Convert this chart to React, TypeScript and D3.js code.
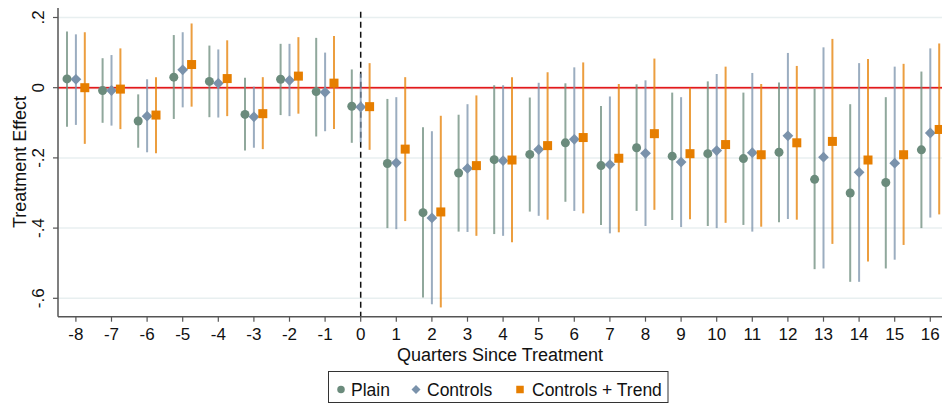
import React from "react";
import * as d3 from "d3";

const quarters = [-8, -7, -6, -5, -4, -3, -2, -1, 0, 1, 2, 3, 4, 5, 6, 7, 8, 9, 10, 11, 12, 13, 14, 15, 16];

const plainEst = [0.025, -0.008, -0.095, 0.030, 0.018, -0.076, 0.024, -0.011, -0.053, -0.216, -0.356, -0.243, -0.205, -0.19, -0.157, -0.222, -0.171, -0.195, -0.188, -0.202, -0.184, -0.261, -0.30, -0.27, -0.177];
const plainHi = [0.16, 0.084, -0.019, 0.15, 0.12, 0.028, 0.125, 0.142, 0.052, -0.032, -0.113, -0.077, 0.007, -0.028, 0.0125, -0.052, 0.0097, -0.014, 0.018, -0.014, 0.015, -0.003, -0.047, -0.027, 0.046];
const plainLo = [-0.111, -0.10, -0.171, -0.089, -0.084, -0.179, -0.078, -0.139, -0.157, -0.40, -0.598, -0.41, -0.417, -0.353, -0.325, -0.391, -0.351, -0.377, -0.394, -0.391, -0.383, -0.517, -0.553, -0.515, -0.40];

const controlsEst = [0.024, -0.008, -0.081, 0.051, 0.0125, -0.083, 0.021, -0.013, -0.055, -0.214, -0.371, -0.23, -0.208, -0.176, -0.147, -0.219, -0.187, -0.212, -0.179, -0.185, -0.137, -0.198, -0.241, -0.215, -0.129];
const controlsHi = [0.152, 0.093, 0.024, 0.158, 0.109, 0.003, 0.125, 0.10, 0.04, -0.027, -0.124, -0.047, 0.007, 0.014, 0.058, -0.025, 0.021, -0.027, 0.039, 0.042, 0.099, 0.115, 0.070, 0.06, 0.112];
const controlsLo = [-0.106, -0.108, -0.184, -0.056, -0.085, -0.171, -0.081, -0.124, -0.155, -0.403, -0.617, -0.411, -0.422, -0.365, -0.351, -0.415, -0.394, -0.397, -0.40, -0.41, -0.374, -0.515, -0.553, -0.49, -0.37];

const trendEst = [0.0, -0.004, -0.078, 0.066, 0.026, -0.074, 0.033, 0.013, -0.054, -0.175, -0.354, -0.222, -0.206, -0.165, -0.142, -0.201, -0.131, -0.188, -0.162, -0.191, -0.157, -0.153, -0.206, -0.191, -0.119];
const trendHi = [0.158, 0.112, 0.030, 0.183, 0.135, 0.030, 0.144, 0.147, 0.07, 0.030, -0.080, -0.022, 0.030, 0.044, 0.072, 0.0105, 0.083, 0.0, 0.06, 0.0105, 0.062, 0.139, 0.082, 0.068, 0.126];
const trendLo = [-0.160, -0.118, -0.187, -0.054, -0.081, -0.175, -0.074, -0.118, -0.177, -0.38, -0.626, -0.422, -0.44, -0.376, -0.358, -0.412, -0.348, -0.375, -0.385, -0.396, -0.376, -0.445, -0.495, -0.448, -0.361];

const yTicks = [0.2, 0, -0.2, -0.4, -0.6];
const yTickLabels = [".2", "0", "-.2", "-.4", "-.6"];
const seriesNames = ["Plain", "Controls", "Controls + Trend"];
const xTitle = "Quarters Since Treatment";
const yTitle = "Treatment Effect";

const W = 942;
const H = 403;
const plotLeft = 58;
const plotRight = 942;
const plotTop = 8;
const plotBottom = 316.7;
const FONT = "'Liberation Sans', Arial, sans-serif";

const colors = {
  plain: "#6b8b7c",
  controls: "#7a92ab",
  trend: "#e67e00",
};

export default function App() {
  const x = d3.scaleLinear().domain([-8, 16]).range([75.9, 930.3]);
  const y = d3.scaleLinear().domain([0, -0.6]).range([87.7, 298.3]);
  const off = 0.25;

  const series = [
    { name: seriesNames[0], est: plainEst, lo: plainLo, hi: plainHi, dx: -off, color: colors.plain, shape: "circle" },
    { name: seriesNames[1], est: controlsEst, lo: controlsLo, hi: controlsHi, dx: 0, color: colors.controls, shape: "diamond" },
    { name: seriesNames[2], est: trendEst, lo: trendLo, hi: trendHi, dx: off, color: colors.trend, shape: "square" },
  ];

  const marker = (shape: string, cx: number, cy: number, color: string, s: number, key?: any) => {
    if (shape === "circle") return <circle key={key} cx={cx} cy={cy} r={s * 0.5} fill={color} />;
    if (shape === "diamond") {
      const r = s * 0.6;
      return <path key={key} d={`M${cx},${cy - r}L${cx + r},${cy}L${cx},${cy + r}L${cx - r},${cy}Z`} fill={color} />;
    }
    const h = s * 0.5;
    return <rect key={key} x={cx - h} y={cy - h} width={2 * h} height={2 * h} fill={color} />;
  };

  return (
    <svg width={W} height={H} style={{ position: "absolute", left: 0, top: 0, background: "#fff" }} fontFamily={FONT}>
      {yTicks.map((t, i) => (
        <line key={"g" + i} x1={plotLeft} x2={plotRight} y1={y(t)} y2={y(t)} stroke="#e8eff0" strokeWidth={1.5} />
      ))}
      <line x1={plotLeft} x2={plotRight} y1={y(0)} y2={y(0)} stroke="#f2a0a0" strokeWidth={3} opacity={0.5} />
      <line x1={plotLeft} x2={plotRight} y1={y(0)} y2={y(0)} stroke="#e31a1c" strokeWidth={1.5} />
      <line x1={x(0)} x2={x(0)} y1={11.7} y2={plotBottom} stroke="#111" strokeWidth={1.5} strokeDasharray="6,4" />
      {series.map((s, si) =>
        quarters.map((q, i) => (
          <line
            key={`ci${si}-${i}`}
            x1={x(q + s.dx)}
            x2={x(q + s.dx)}
            y1={y(s.hi[i])}
            y2={y(s.lo[i])}
            stroke={s.color}
            strokeWidth={2}
            opacity={0.75}
          />
        ))
      )}
      {series.map((s, si) =>
        quarters.map((q, i) => marker(s.shape, x(q + s.dx), y(s.est[i]), s.color, 9, `pt${si}-${i}`))
      )}
      <line x1={plotLeft} x2={plotLeft} y1={plotTop} y2={plotBottom} stroke="#555" strokeWidth={1.5} />
      <line x1={plotLeft} x2={plotRight} y1={plotBottom} y2={plotBottom} stroke="#555" strokeWidth={1.5} />
      {yTicks.map((t, i) => (
        <g key={"yt" + i}>
          <line x1={plotLeft - 5} x2={plotLeft} y1={y(t)} y2={y(t)} stroke="#555" strokeWidth={1.2} />
          <text
            transform={`translate(${plotLeft - 14},${y(t)}) rotate(-90)`}
            textAnchor="middle"
            fontSize={17}
            fill="#111"
          >
            {yTickLabels[i]}
          </text>
        </g>
      ))}
      {quarters.map((q, i) => (
        <g key={"xt" + i}>
          <line x1={x(q)} x2={x(q)} y1={plotBottom} y2={plotBottom + 5} stroke="#555" strokeWidth={1.2} />
          <text x={x(q)} y={339.5} textAnchor="middle" fontSize={17} fill="#111">
            {String(q)}
          </text>
        </g>
      ))}
      <text transform={`translate(26,162) rotate(-90)`} textAnchor="middle" fontSize={18} fill="#111">
        {yTitle}
      </text>
      <text x={(plotLeft + plotRight) / 2} y={360.5} textAnchor="middle" fontSize={18} fill="#111">
        {xTitle}
      </text>
      <rect x={328.5} y={371.5} width={339.5} height={31} fill="#fff" stroke="#333" strokeWidth={1} />
      {marker("circle", 341, 389.5, colors.plain, 7.5)}
      <text x={351} y={396} fontSize={17.5} fill="#111">{seriesNames[0]}</text>
      {marker("diamond", 416, 389.5, colors.controls, 7.5)}
      <text x={427} y={396} fontSize={17.5} fill="#111">{seriesNames[1]}</text>
      {marker("square", 520, 389.5, colors.trend, 7.5)}
      <text x={532} y={396} fontSize={17.5} fill="#111">{seriesNames[2]}</text>
    </svg>
  );
}
